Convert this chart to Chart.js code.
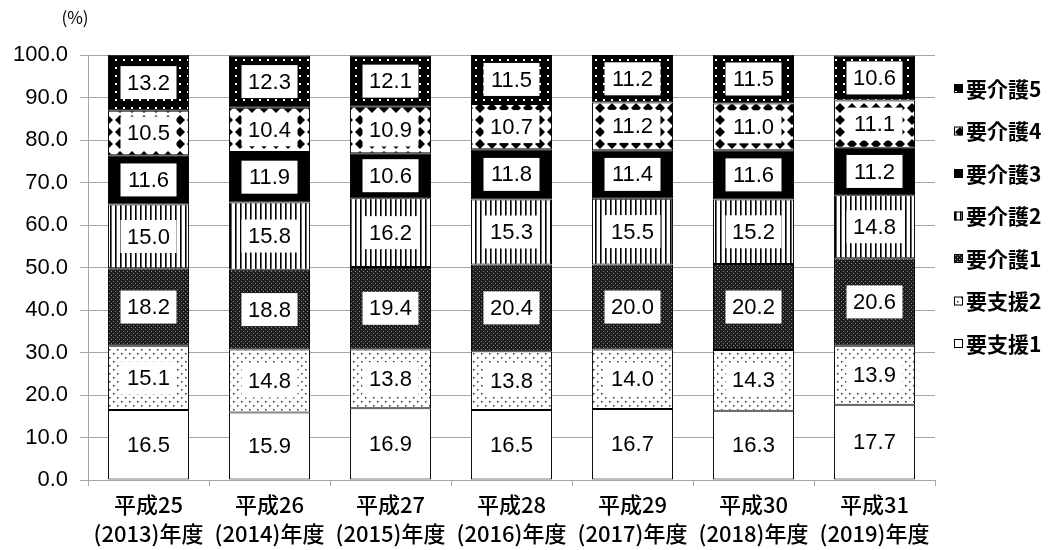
<!DOCTYPE html>
<html>
<head>
<meta charset="utf-8">
<script src="https://cdn.jsdelivr.net/npm/chart.js@4"></script>
<style>
  html, body { margin: 0; padding: 0; background: #fff; }
  #wrap { width: 1051px; height: 550px; position: relative; }
</style>
</head>
<body>
<div id="wrap"><canvas id="chart"></canvas></div>
<script>
// ============================================
// DATA
// ============================================

const years = [
    ['平成25', '(2013)年度'],
    ['平成26', '(2014)年度'],
    ['平成27', '(2015)年度'],
    ['平成28', '(2016)年度'],
    ['平成29', '(2017)年度'],
    ['平成30', '(2018)年度'],
    ['平成31', '(2019)年度']
];

const seriesNames = ['要支援1', '要支援2', '要介護1', '要介護2', '要介護3', '要介護4', '要介護5'];

const shien1 = [16.5, 15.9, 16.9, 16.5, 16.7, 16.3, 17.7];
const shien2 = [15.1, 14.8, 13.8, 13.8, 14.0, 14.3, 13.9];
const kaigo1 = [18.2, 18.8, 19.4, 20.4, 20.0, 20.2, 20.6];
const kaigo2 = [15.0, 15.8, 16.2, 15.3, 15.5, 15.2, 14.8];
const kaigo3 = [11.6, 11.9, 10.6, 11.8, 11.4, 11.6, 11.2];
const kaigo4 = [10.5, 10.4, 10.9, 10.7, 11.2, 11.0, 11.1];
const kaigo5 = [13.2, 12.3, 12.1, 11.5, 11.2, 11.5, 10.6];

const yTicks = [0, 10, 20, 30, 40, 50, 60, 70, 80, 90, 100];

// ============================================
// FILL PATTERNS
// ============================================

function makeTile(w, h, paint) {
    const c = document.createElement('canvas');
    c.width = w;
    c.height = h;
    const g = c.getContext('2d');
    paint(g, w, h);
    return g.createPattern(c, 'repeat');
}

function diamond(g, cx, cy, r) {
    g.beginPath();
    g.moveTo(cx, cy - r);
    g.lineTo(cx + r, cy);
    g.lineTo(cx, cy + r);
    g.lineTo(cx - r, cy);
    g.closePath();
    g.fill();
}

const patterns = {
    plain: '#ffffff',
    // sparse staggered dots
    dots: makeTile(8, 8, (g, w, h) => {
        g.fillStyle = '#fff';
        g.fillRect(0, 0, w, h);
        g.fillStyle = '#333';
        g.fillRect(1, 1, 1.5, 1.5);
        g.fillRect(5, 5, 1.5, 1.5);
    }),
    // dense dark mesh
    mesh: makeTile(4, 4, (g, w, h) => {
        g.fillStyle = '#1e1e1e';
        g.fillRect(0, 0, w, h);
        g.fillStyle = '#8c8c8c';
        g.fillRect(1, 1, 1, 1);
        g.fillRect(3, 3, 1, 1);
    }),
    // vertical stripes
    stripes: makeTile(5, 4, (g, w, h) => {
        g.fillStyle = '#fff';
        g.fillRect(0, 0, w, h);
        g.fillStyle = '#000';
        g.fillRect(0, 0, 1.6, h);
    }),
    solid: '#000000',
    // black diamonds on white
    diamonds: makeTile(12, 12, (g, w, h) => {
        g.fillStyle = '#fff';
        g.fillRect(0, 0, w, h);
        g.fillStyle = '#000';
        [[0, 0], [w, 0], [0, h], [w, h]].forEach(([cx, cy]) => diamond(g, cx, cy, 5));
    }),
    // white dots on black
    darkDots: makeTile(8, 8, (g, w, h) => {
        g.fillStyle = '#000';
        g.fillRect(0, 0, w, h);
        g.fillStyle = '#fff';
        g.fillRect(3, 3, 2, 2);
    })
};

const seriesValues = [shien1, shien2, kaigo1, kaigo2, kaigo3, kaigo4, kaigo5];
const seriesFills = [
    patterns.plain, patterns.dots, patterns.mesh, patterns.stripes,
    patterns.solid, patterns.diamonds, patterns.darkDots
];

const numFont = '"Liberation Sans", Arial, sans-serif';
const jpFont = '"Noto Sans CJK JP", "Noto Sans", sans-serif';

// ============================================
// PLUGINS
// ============================================

// value labels in white boxes centred on each segment
const boxLabels = {
    id: 'boxLabels',
    afterDatasetsDraw(chart) {
        const ctx = chart.ctx;
        ctx.save();
        ctx.font = '22px ' + numFont;
        ctx.textAlign = 'center';
        ctx.textBaseline = 'middle';
        chart.data.datasets.forEach((ds, di) => {
            const meta = chart.getDatasetMeta(di);
            meta.data.forEach((bar, i) => {
                const { x, y, base } = bar.getProps(['x', 'y', 'base'], true);
                const cy = (y + base) / 2;
                const txt = ds.data[i].toFixed(1);
                ctx.fillStyle = '#fff';
                ctx.fillRect(x - 28, cy - 16.5, 56, 33);
                ctx.fillStyle = '#000';
                ctx.fillText(txt, x, cy + 1);
            });
        });
        ctx.restore();
    }
};

// unit caption and legend on the right
const extras = {
    id: 'extras',
    afterDraw(chart) {
        const ctx = chart.ctx;
        const area = chart.chartArea;
        ctx.save();
        ctx.fillStyle = '#000';
        ctx.font = '17px ' + jpFont;
        ctx.textAlign = 'center';
        ctx.textBaseline = 'middle';
        ctx.fillText('(%)', 75, 18);

        const n = chart.data.datasets.length;
        const startY = 88;
        const step = 42.5;
        ctx.textAlign = 'left';
        ctx.font = 'bold 21px ' + jpFont;
        for (let k = 0; k < n; k++) {
            const ds = chart.data.datasets[n - 1 - k];
            const cy = startY + k * step;
            const bx = area.right + 19;
            ctx.fillStyle = ds.backgroundColor;
            ctx.fillRect(bx, cy - 4, 9, 9);
            ctx.strokeStyle = '#000';
            ctx.lineWidth = 1;
            ctx.strokeRect(bx + 0.5, cy - 3.5, 8, 8);
            ctx.fillStyle = '#000';
            ctx.fillText(ds.label, bx + 12, cy + 1);
        }
        ctx.restore();
    }
};

// ============================================
// CHART
// ============================================

const datasets = seriesNames.map((name, i) => ({
    label: name,
    data: seriesValues[i],
    backgroundColor: seriesFills[i],
    borderColor: '#000',
    borderWidth: 1,
    borderSkipped: false,
    barPercentage: 0.67,
    categoryPercentage: 1.0
}));

new Chart(document.getElementById('chart'), {
    type: 'bar',
    data: { labels: years, datasets },
    options: {
        responsive: true,
        maintainAspectRatio: false,
        animation: false,
        layout: { padding: { top: 55, right: 116, left: 0, bottom: 0 } },
        plugins: {
            legend: { display: false },
            tooltip: { enabled: false }
        },
        scales: {
            x: {
                stacked: true,
                afterFit: s => { s.height = 70; },
                border: { color: '#a6a6a6', width: 1 },
                grid: {
                    offset: true,
                    drawOnChartArea: false,
                    drawTicks: true,
                    tickLength: 6,
                    color: '#a6a6a6'
                },
                ticks: {
                    color: '#000',
                    padding: 5,
                    maxRotation: 0,
                    font: { family: jpFont, size: 22, weight: '500', lineHeight: 1.28 }
                }
            },
            y: {
                stacked: true,
                min: 0,
                max: 100,
                afterFit: s => { s.width = 88; },
                afterBuildTicks: s => { s.ticks = yTicks.map(v => ({ value: v })); },
                border: { color: '#a6a6a6', width: 1 },
                grid: {
                    color: '#a6a6a6',
                    tickLength: 8
                },
                ticks: {
                    color: '#000',
                    padding: 12,
                    font: { family: numFont, size: 22 },
                    callback: v => v.toFixed(1)
                }
            }
        }
    },
    plugins: [boxLabels, extras]
});
</script>
</body>
</html>
